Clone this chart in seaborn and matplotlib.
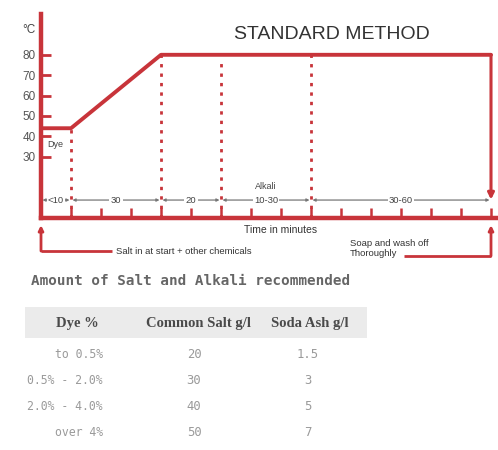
import numpy as np
import pandas as pd
import seaborn as sns
import matplotlib.pyplot as plt
from matplotlib.patches import Rectangle

sns.set_theme(style="white")
plt.rcParams["font.family"] = ["Liberation Sans", "DejaVu Sans"]

# temperature profile of the dyeing process
profile_time = [0, 10, 40, 150]
profile_temp = [44, 44, 80, 80]

# dotted phase markers (minute, temperature where the marker starts)
phase_marks = [10, 40, 60, 90]
phase_tops = [44, 80, 77, 80]

# phase segments along the time axis
phase_bounds = [0, 10, 40, 60, 90, 150]
phase_labels = ["<10", "30", "20", "10-30", "30-60"]

y_ticks = [30, 40, 50, 60, 70, 80]
x_ticks = list(range(10, 151, 10))

# recommended amounts table
table_title = "Amount of Salt and Alkali recommended"
table_header = ["Dye %", "Common Salt g/l", "Soda Ash g/l"]
dye_ranges = ["to 0.5%", "0.5% - 2.0%", "2.0% - 4.0%", "over 4%"]
salt_gpl = [20, 30, 40, 50]
soda_gpl = ["1.5", "3", "5", "7"]

red = "#c8343a"
W, H = 498, 450

fig = plt.figure(figsize=(W / 100, H / 100), dpi=100)
fig.patch.set_facecolor("white")

# chart area: x axis at y=218 px, y axis at x=41 px
ax = fig.add_axes([41 / W, (H - 218) / H, (W - 41) / W, 204 / H])
ax.set_facecolor((0, 0, 0, 0))

df = pd.DataFrame({"time": profile_time, "temp": profile_temp})
sns.lineplot(data=df, x="time", y="temp", color=red, lw=2.8, ax=ax,
             clip_on=False)

# drop at the end of the process
ax.annotate("", xy=(profile_time[-1], 9), xytext=(profile_time[-1], profile_temp[-1]),
            arrowprops=dict(arrowstyle="-|>", color=red, lw=2.2,
                            mutation_scale=9, shrinkA=0, shrinkB=0),
            annotation_clip=False)

for t, top in zip(phase_marks, phase_tops):
    ax.plot([t, t], [0, top], ls=(0, (1.2, 2.2)), color=red, lw=2)

ax.set_xlim(0, (W - 41) / 3)
ax.set_ylim(0, 100)

sns.despine(ax=ax)
for side in ["left", "bottom"]:
    ax.spines[side].set_color(red)
    ax.spines[side].set_linewidth(3.2)

ax.set_yticks(y_ticks)
ax.set_yticklabels([str(v) for v in y_ticks])
ax.set_xticks(x_ticks)
ax.set_xticklabels([])
ax.tick_params(axis="y", direction="in", length=7, width=2, color=red,
               labelsize=8.5, labelcolor="#555555", pad=4, left=True)
ax.tick_params(axis="x", direction="in", length=7, width=1.8, color=red,
               bottom=True)
ax.set_xlabel("")
ax.set_ylabel("")

ax.text(-4, 92, "°C", fontsize=8.5, color="#444444", ha="center", va="center",
        clip_on=False)
ax.text(97, 90, "STANDARD METHOD", fontsize=14, color="#333333",
        ha="center", va="center")
ax.text(2, 36, "Dye", fontsize=6.5, color="#444444", ha="left", va="center")

# phase duration arrows
for a, b, lab in zip(phase_bounds[:-1], phase_bounds[1:], phase_labels):
    ax.annotate("", xy=(b - 0.5, 8.8), xytext=(a + 0.5, 8.8),
                arrowprops=dict(arrowstyle="<|-|>", color="#777777", lw=0.9,
                                mutation_scale=4, shrinkA=0, shrinkB=0))
    ax.text((a + b) / 2, 8.8, lab, fontsize=6.8, color="#444444",
            ha="center", va="center",
            bbox=dict(boxstyle="square,pad=0.15", fc="white", ec="none"))
ax.text((phase_bounds[3] + phase_bounds[4]) / 2, 15.5, "Alkali", fontsize=6.5,
        color="#444444", ha="center", va="center")

# notes below the time axis
ax.text(80, -6, "Time in minutes", fontsize=7.5, color="#333333",
        ha="center", va="center", clip_on=False)

ax.annotate("", xy=(0, -3.5), xytext=(0, -16.2),
            arrowprops=dict(arrowstyle="-|>", color=red, lw=2,
                            mutation_scale=7, shrinkA=0, shrinkB=0),
            annotation_clip=False)
ax.plot([0, 23.5], [-16.2, -16.2], color=red, lw=2, clip_on=False,
        solid_capstyle="butt")
ax.text(25, -16.2, "Salt in at start + other chemicals", fontsize=6.8,
        color="#333333", ha="left", va="center", clip_on=False)

ax.annotate("", xy=(150, -3.5), xytext=(150, -18.6),
            arrowprops=dict(arrowstyle="-|>", color=red, lw=2,
                            mutation_scale=7, shrinkA=0, shrinkB=0),
            annotation_clip=False)
ax.plot([121, 150], [-18.6, -18.6], color=red, lw=2, clip_on=False,
        solid_capstyle="butt")
ax.text(103, -15, "Soap and wash off\nThoroughly", fontsize=6.8,
        color="#333333", ha="left", va="center", linespacing=1.2,
        clip_on=False)

# table
def fx(px):
    return px / W


def fy(py):
    return 1 - py / H


fig.text(fx(31), fy(281), table_title, fontsize=10.3, color="#666666",
         family="DejaVu Sans Mono", weight="bold", ha="left", va="center")

fig.patches.append(Rectangle((fx(25), fy(338)), fx(342), 31 / H,
                             transform=fig.transFigure, fc="#ebebeb",
                             ec="none", zorder=0))

head_x = [77, 198, 310]
for x, lab in zip(head_x, table_header):
    fig.text(fx(x), fy(323), lab, fontsize=10.5, color="#4a4a4a",
             family="Liberation Serif", weight="bold", ha="center",
             va="center")

row_y = [355, 381, 407, 433]
for y, d, s, a in zip(row_y, dye_ranges, salt_gpl, soda_gpl):
    fig.text(fx(103), fy(y), d, fontsize=8.3, color="#9a9a9a",
             family="DejaVu Sans Mono", ha="right", va="center")
    fig.text(fx(194), fy(y), str(s), fontsize=8.8, color="#9a9a9a",
             family="DejaVu Sans Mono", ha="center", va="center")
    fig.text(fx(308), fy(y), a, fontsize=8.8, color="#9a9a9a",
             family="DejaVu Sans Mono", ha="center", va="center")

fig.savefig("out.png", dpi=100)
